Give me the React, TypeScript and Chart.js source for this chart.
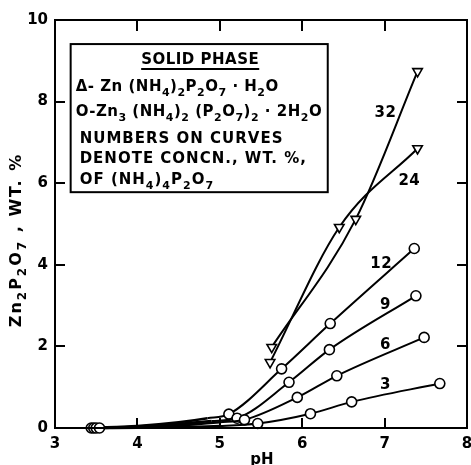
import React, { useEffect, useRef } from 'react';
import { Chart, registerables } from 'chart.js';

Chart.register(...registerables);

// ---- axis ticks ----
const xTickValues = [3, 4, 5, 6, 7, 8];
const yTickValues = [0, 2, 4, 6, 8, 10];

// ---- series (pH, wt.% Zn2P2O7); marked = plotted observation symbol ----
const ph32 = [5.63, 6.65, 7.40];
const wt32 = [1.98, 5.12, 8.74];
const mark32 = [1, 1, 1];

const ph24 = [5.61, 6.45, 7.40];
const wt24 = [1.61, 4.92, 6.85];
const mark24 = [1, 1, 1];

const ph12 = [3.44, 4.0, 4.5, 4.85, 5.11, 5.75, 6.34, 7.36];
const wt12 = [0, 0.05, 0.14, 0.24, 0.34, 1.45, 2.56, 4.40];
const mark12 = [1, 0, 0, 0, 1, 1, 1, 1];

const ph9 = [3.47, 4.0, 4.5, 4.9, 5.21, 5.84, 6.33, 7.38];
const wt9 = [0, 0.035, 0.1, 0.17, 0.24, 1.12, 1.92, 3.24];
const mark9 = [1, 0, 0, 0, 1, 1, 1, 1];

const ph6 = [3.50, 4.0, 4.5, 5.0, 5.30, 5.94, 6.42, 7.48];
const wt6 = [0, 0.02, 0.06, 0.14, 0.20, 0.75, 1.28, 2.22];
const mark6 = [1, 0, 0, 0, 1, 1, 1, 1];

const ph3 = [3.54, 4.0, 4.5, 5.0, 5.46, 6.10, 6.60, 7.67];
const wt3 = [0, 0.01, 0.025, 0.05, 0.11, 0.35, 0.64, 1.09];
const mark3 = [1, 0, 0, 0, 1, 1, 1, 1];

// ---- curve labels (concentration, wt.% (NH4)4P2O7) ----
const curveLabels = ['32', '24', '12', '9', '6', '3'];
const curveLabelPh = [7.01, 7.30, 6.96, 7.01, 7.01, 7.01];
const curveLabelWt = [7.75, 6.08, 4.06, 3.04, 2.08, 1.08];

// ---- legend box extent (data coords) ----
const legendPh = [3.19, 6.31];
const legendWt = [9.41, 5.78];

type Seg = [string, number];
const legendTitle = 'SOLID PHASE';
const legendLine1: Seg[] = [['\u0394- Zn (NH', 0], ['4', 1], [')', 0], ['2', 1], ['P', 0], ['2', 1], ['O', 0], ['7', 1], [' \u00B7 H', 0], ['2', 1], ['O', 0]];
const legendLine2: Seg[] = [['O-Zn', 0], ['3', 1], [' (NH', 0], ['4', 1], [')', 0], ['2', 1], [' (P', 0], ['2', 1], ['O', 0], ['7', 1], [')', 0], ['2', 1], [' \u00B7 2H', 0], ['2', 1], ['O', 0]];
const legendLine3: Seg[] = [['NUMBERS ON CURVES', 0]];
const legendLine4: Seg[] = [['DENOTE CONCN., WT. %,', 0]];
const legendLine5: Seg[] = [['OF (NH', 0], ['4', 1], [')', 0], ['4', 1], ['P', 0], ['2', 1], ['O', 0], ['7', 1]];
const yTitle: Seg[] = [['Zn', 0], ['2', 1], ['P', 0], ['2', 1], ['O', 0], ['7', 1], [' , WT. %', 0]];
const xTitle = 'pH';

const FONT = '"DejaVu Sans", sans-serif';

function drawRich(ctx: CanvasRenderingContext2D, segs: Seg[], x: number, y: number, size: number, align: string, spacing = 0) {
  const fN = `bold ${size}px ${FONT}`;
  const fS = `bold ${Math.round(size * 0.72)}px ${FONT}`;
  (ctx as any).letterSpacing = spacing + 'px';
  let w = 0;
  for (const [t, s] of segs) {
    ctx.font = s ? fS : fN;
    w += ctx.measureText(t).width;
  }
  let cx = align === 'center' ? x - w / 2 : x;
  ctx.textAlign = 'left';
  ctx.textBaseline = 'alphabetic';
  for (const [t, s] of segs) {
    ctx.font = s ? fS : fN;
    ctx.fillText(t, cx, s ? y + size * 0.3 : y);
    cx += ctx.measureText(t).width;
  }
  (ctx as any).letterSpacing = '0px';
  return w;
}

const overlay = {
  id: 'overlay',
  afterDraw(chart: any) {
    const { ctx, chartArea } = chart;
    const { left, top, right, bottom } = chartArea;
    const xs = chart.scales.x;
    const ys = chart.scales.y;
    ctx.save();
    ctx.strokeStyle = '#000';
    ctx.fillStyle = '#000';
    ctx.lineWidth = 2;
    ctx.strokeRect(left, top, right - left, bottom - top);
    // inward ticks
    ctx.beginPath();
    for (const v of xTickValues.slice(1, -1)) {
      const px = Math.round(xs.getPixelForValue(v));
      ctx.moveTo(px, bottom); ctx.lineTo(px, bottom - 10);
      ctx.moveTo(px, top); ctx.lineTo(px, top + 11);
    }
    for (const v of yTickValues.slice(1, -1)) {
      const py = Math.round(ys.getPixelForValue(v));
      ctx.moveTo(left, py); ctx.lineTo(left + 10, py);
      ctx.moveTo(right, py); ctx.lineTo(right - 10, py);
    }
    ctx.stroke();

    const size = 15;
    const cap = size * 0.36;

    // x tick labels
    for (const v of xTickValues) {
      drawRich(ctx, [[String(v), 0]], xs.getPixelForValue(v), bottom + 20, size, 'center');
    }

    // legend box
    const bl = xs.getPixelForValue(legendPh[0]);
    const br = xs.getPixelForValue(legendPh[1]);
    const bt = ys.getPixelForValue(legendWt[0]);
    const bb = ys.getPixelForValue(legendWt[1]);
    ctx.lineWidth = 2;
    ctx.strokeRect(bl, bt, br - bl, bb - bt);
    const tw = drawRich(ctx, [[legendTitle, 0]], (bl + br) / 2 + 1, bt + 15 + cap, size, 'center', 0.5);
    ctx.beginPath();
    ctx.moveTo((bl + br) / 2 + 1 - tw / 2, bt + 25);
    ctx.lineTo((bl + br) / 2 + 1 + tw / 2, bt + 25);
    ctx.stroke();
    drawRich(ctx, legendLine1, bl + 5, bt + 42 + cap, size, 'left', 0.5);
    drawRich(ctx, legendLine2, bl + 5, bt + 67 + cap, size, 'left', 0.5);
    drawRich(ctx, legendLine3, bl + 9, bt + 94 + cap, size, 'left', 1);
    drawRich(ctx, legendLine4, bl + 9, bt + 114 + cap, size, 'left', 1);
    drawRich(ctx, legendLine5, bl + 9, bt + 135 + cap, size, 'left', 1);

    // curve labels
    for (let i = 0; i < curveLabels.length; i++) {
      const px = xs.getPixelForValue(curveLabelPh[i]);
      const py = ys.getPixelForValue(curveLabelWt[i]);
      drawRich(ctx, [[curveLabels[i], 0]], px, py + cap, size, 'center', 0.5);
    }

    // axis titles
    drawRich(ctx, [[xTitle, 0]], (left + right) / 2 + 1, 464, size, 'center');
    ctx.save();
    ctx.translate(15, 240);
    ctx.rotate(-Math.PI / 2);
    drawRich(ctx, yTitle, 0, 16 * 0.36, 16, 'center', 2);
    ctx.restore();
    ctx.restore();
  },
};

function makeSet(ph: number[], wt: number[], mark: number[], style: string) {
  return {
    data: ph.map((p, i) => ({ x: p, y: wt[i] })),
    showLine: true,
    borderColor: '#000',
    borderWidth: 2,
    segment: { borderWidth: (c: any) => (c.p1.parsed.x <= 5.0 ? 2.6 : 2) },
    cubicInterpolationMode: 'monotone' as const,
    pointStyle: style,
    rotation: style === 'triangle' ? 180 : 0,
    pointRadius: mark.map((m) => (m ? (style === 'triangle' ? 5.5 : 5) : 0)),
    pointBackgroundColor: '#fff',
    pointBorderColor: '#000',
    pointBorderWidth: 1.6,
    clip: false as any,
  };
}

export default function App() {
  const ref = useRef<HTMLCanvasElement | null>(null);
  useEffect(() => {
    if (!ref.current) return;
    const chart = new Chart(ref.current, {
      type: 'scatter',
      data: {
        datasets: [
          makeSet(ph3, wt3, mark3, 'circle'),
          makeSet(ph6, wt6, mark6, 'circle'),
          makeSet(ph9, wt9, mark9, 'circle'),
          makeSet(ph12, wt12, mark12, 'circle'),
          makeSet(ph24, wt24, mark24, 'triangle'),
          makeSet(ph32, wt32, mark32, 'triangle'),
        ] as any,
      },
      options: {
        responsive: false,
        animation: false,
        events: [],
        layout: { autoPadding: false, padding: { top: 20, right: 4, left: 0, bottom: 0 } },
        plugins: { legend: { display: false }, tooltip: { enabled: false } },
        scales: {
          x: {
            type: 'linear',
            min: 3,
            max: 8,
            afterFit: (s: any) => { s.height = 37; },
            afterBuildTicks: (s: any) => { s.ticks = xTickValues.map((v) => ({ value: v })); },
            grid: { display: false, drawTicks: false },
            border: { display: false },
            ticks: { display: false },
          },
          y: {
            type: 'linear',
            min: 0,
            max: 10,
            afterFit: (s: any) => { s.width = 55; },
            afterBuildTicks: (s: any) => { s.ticks = yTickValues.map((v) => ({ value: v })); },
            grid: { display: false, drawTicks: false },
            border: { display: false },
            ticks: { color: '#000', font: { family: FONT, size: 15, weight: 'bold' }, padding: 7, autoSkip: false },
          },
        },
      } as any,
      plugins: [overlay],
    });
    return () => chart.destroy();
  }, []);
  return (
    <div style={{ position: 'fixed', left: 0, top: 0, width: 471, height: 465, background: '#fff' }}>
      <canvas ref={ref} width={471} height={465} style={{ display: 'block' }} />
    </div>
  );
}
